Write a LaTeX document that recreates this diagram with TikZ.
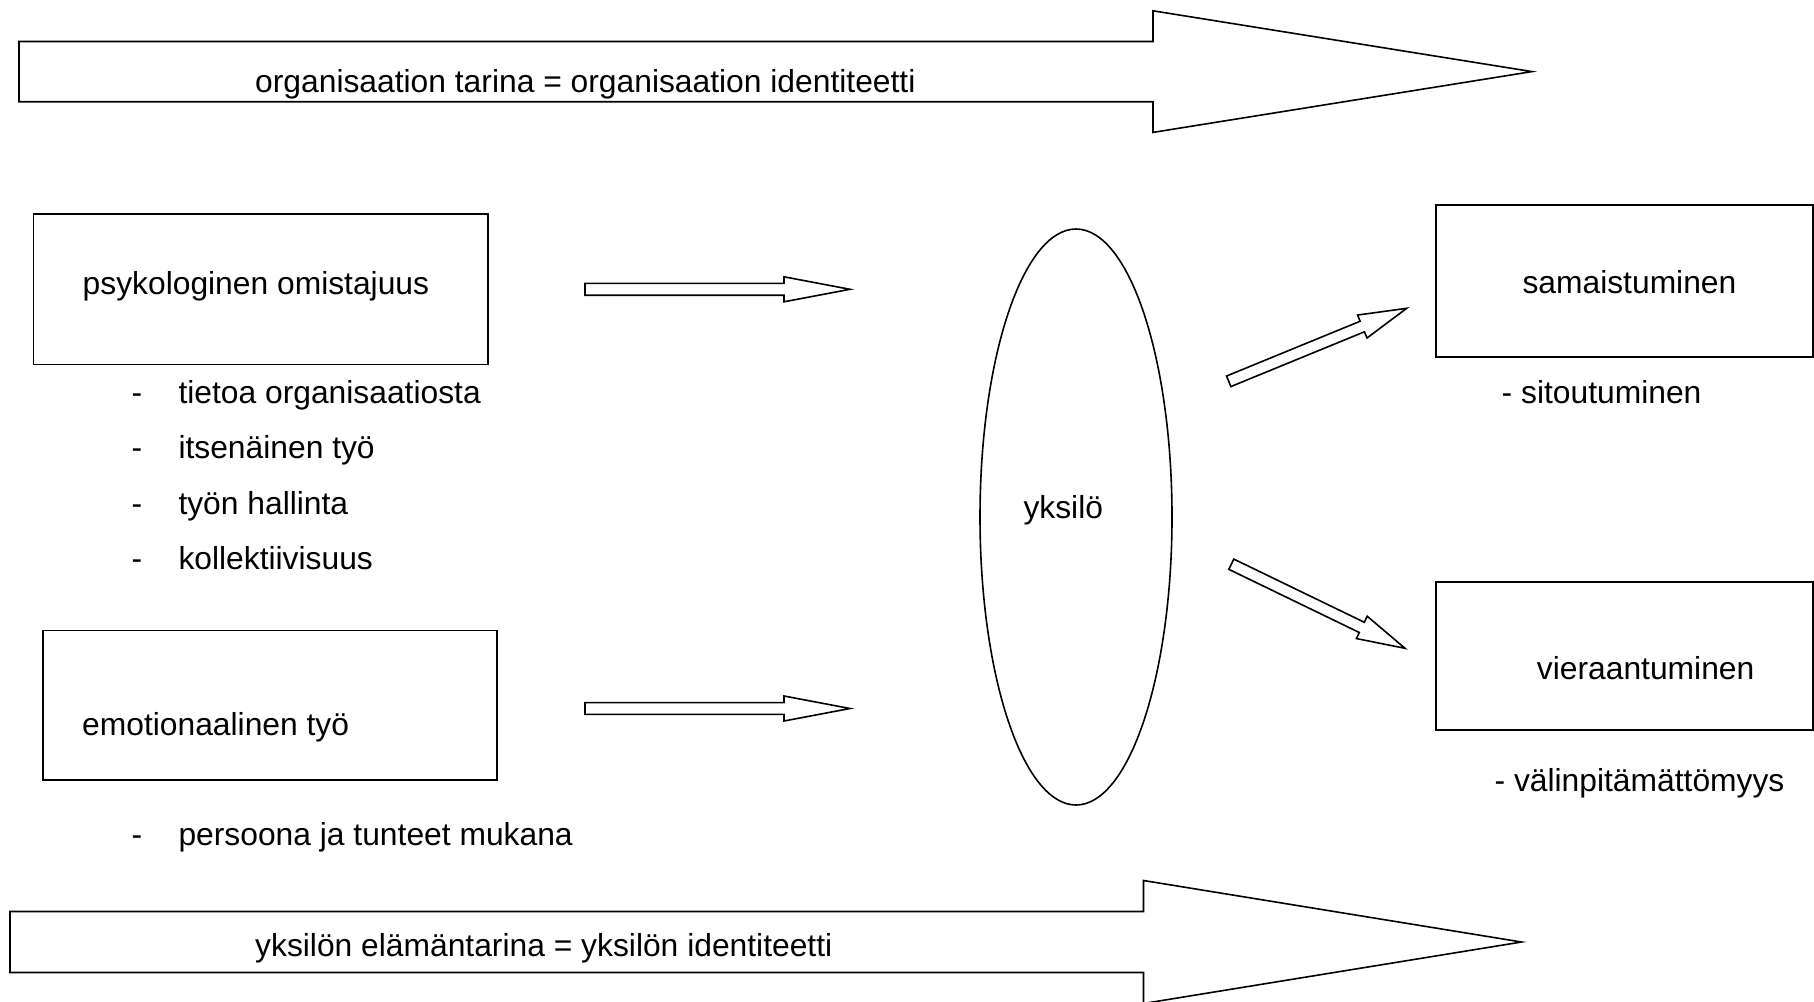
\documentclass[tikz,border=0pt]{standalone}
\usepackage{fontspec}
\setmainfont{Liberation Sans}
\usetikzlibrary{calc,shapes.geometric}

% Outlined block arrow: tail, tip, shaft half width, head half width, head length
\newcommand\blockarrow[5]{%
  \coordinate (ba-base) at ($(#2)!#5!(#1)$);
  \draw[arrowline]
    ($(#1)!#3!90:(#2)$) -- ($(ba-base)!#3!-90:(#1)$) -- ($(ba-base)!#4!-90:(#1)$)
    -- (#2) -- ($(ba-base)!#4!90:(#1)$) -- ($(ba-base)!#3!90:(#1)$)
    -- ($(#1)!#3!-90:(#2)$) -- cycle;
}

\begin{document}
\begin{tikzpicture}[x=1pt,y=-1pt,
  font=\fontsize{31.8pt}{38pt}\selectfont,
  arrowline/.style={draw=black,line width=1.6pt,line join=miter,fill=white},
  framebox/.style={draw=black,line width=1.8pt,rectangle,inner sep=0pt},
  txt/.style={anchor=base west,inner sep=0pt,text=black}]
\useasboundingbox[fill=white] (0,0) rectangle (1814,1001);

% wide arrows framing the picture
\coordinate (orgtail) at (19,71.6);
\coordinate (orgtip) at (1532,71.6);
\blockarrow{orgtail}{orgtip}{30.1pt}{60.8pt}{379pt}
\node[txt] (orgtext) at (255,92) {organisaation tarina = organisaation identiteetti};

\coordinate (lifetail) at (10,942);
\coordinate (lifetip) at (1521.5,942);
\blockarrow{lifetail}{lifetip}{30.5pt}{61.5pt}{378pt}
\node[txt] (lifetext) at (255,956) {yksilön elämäntarina = yksilön identiteetti};

% left boxes
\node[framebox,minimum width=454.5pt,minimum height=150.5pt] (own) at (260.75,289.25) {};
\node[txt] (owntext) at (82.5,294.6) {psykologinen omistajuus};

\node[framebox,minimum width=454.5pt,minimum height=149.5pt] (emo) at (269.9,705.25) {};
\node[txt] (emotext) at (82,735.6) {emotionaalinen työ};

% bullet lists
\foreach \t [count=\i] in {tietoa organisaatiosta,itsenäinen työ,työn hallinta,kollektiivisuus}{
  \node[txt] (dash\i) at (131.5,{403.3+55.5*(\i-1)}) {-};
  \node[txt] (item\i) at (178.3,{403.3+55.5*(\i-1)}) {\t};
}
\node[txt] (dash5) at (131.5,845.3) {-};
\node[txt] (item5) at (178.3,845.3) {persoona ja tunteet mukana};

% the individual
\node[draw=black,line width=1.6pt,ellipse,minimum width=192pt,minimum height=576pt,inner sep=0pt] (self) at (1076,517) {};
\node[txt] (selftext) at (1023.3,518.8) {yksilö};

% right boxes
\node[framebox,minimum width=377pt,minimum height=151.5pt] (ident) at (1624.5,280.9) {};
\node[txt] (identtext) at (1522.3,293.8) {samaistuminen};
\node[txt] (identnote) at (1501.5,403.3) {- sitoutuminen};

\node[framebox,minimum width=377pt,minimum height=148pt] (alien) at (1624.5,656) {};
\node[txt] (alientext) at (1536.7,679) {vieraantuminen};
\node[txt] (aliennote) at (1494.4,791.3) {- välinpitämättömyys};

% small block arrows
\coordinate (a1tail) at (585,289.3);
\coordinate (a1tip) at (850,289.3);
\blockarrow{a1tail}{a1tip}{5.9pt}{12.5pt}{66pt}

\coordinate (a2tail) at (585,708.5);
\coordinate (a2tip) at (850,708.5);
\blockarrow{a2tail}{a2tip}{5.9pt}{12.5pt}{66pt}

\coordinate (a3tail) at (1228.7,381.3);
\coordinate (a3tip) at (1406.7,308.3);
\blockarrow{a3tail}{a3tip}{5.7pt}{12.4pt}{48pt}

\coordinate (a4tail) at (1231.3,564.2);
\coordinate (a4tip) at (1405,648.3);
\blockarrow{a4tail}{a4tip}{5.7pt}{12.4pt}{48pt}
\end{tikzpicture}
\end{document}
